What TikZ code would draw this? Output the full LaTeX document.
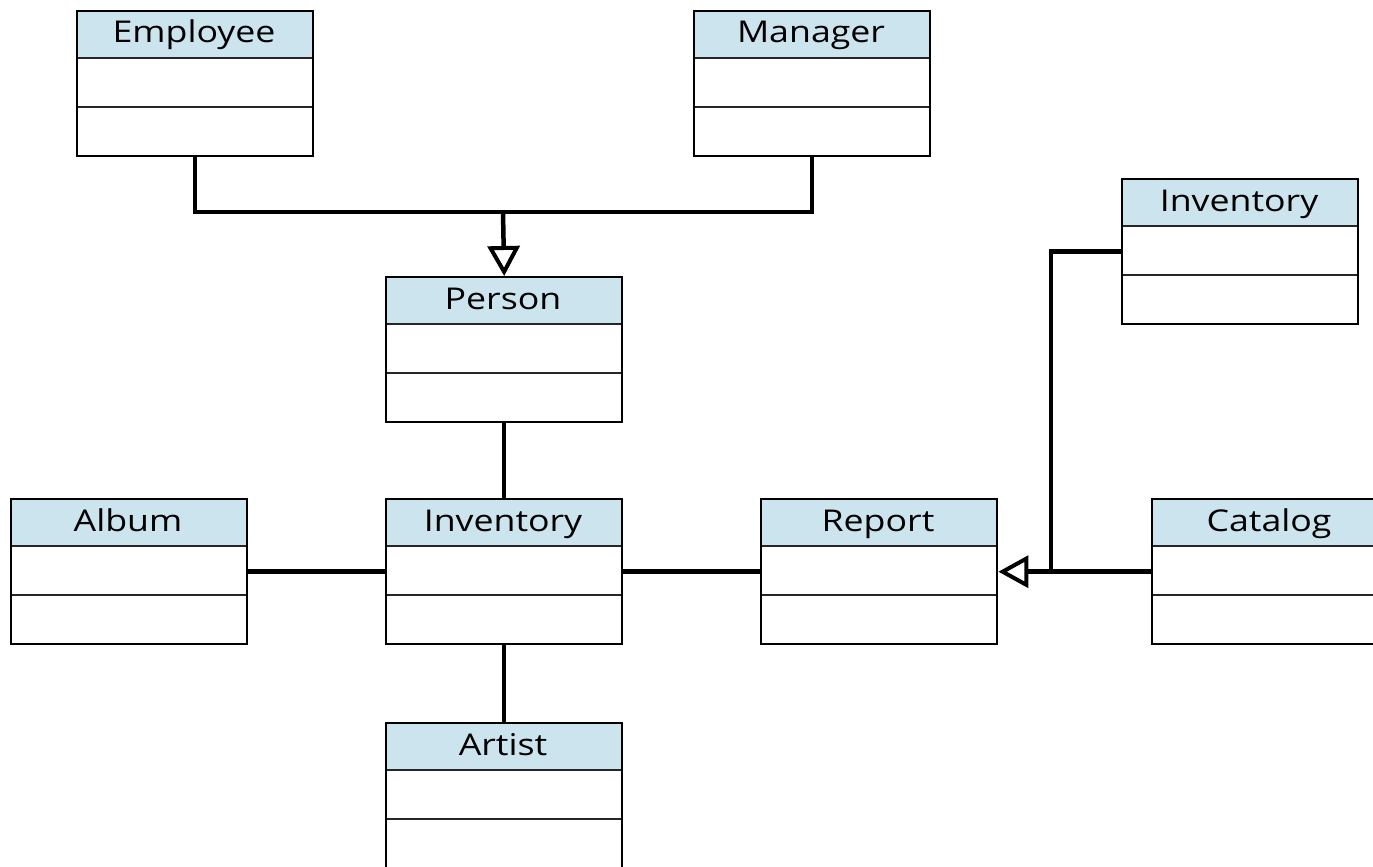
\documentclass[tikz,border=0pt]{standalone}
\usepackage{fontspec}
\newfontfamily\clsfont[FakeStretch=1.19]{Open Sans}
\usetikzlibrary{arrows.meta}
\definecolor{headblue}{RGB}{204,228,238}
\tikzset{
  x=1pt, y=1pt,
  classbox/.style={draw=black, line width=2.4pt, minimum width=236pt, minimum height=145pt, inner sep=0pt, anchor=north west},
  headfill/.style={fill=headblue},
  rowline/.style={draw=black!85, line width=2.2pt},
  classtitle/.style={font=\clsfont\fontsize{30}{34}\selectfont, inner sep=0pt, anchor=base},
  conn/.style={draw=black, line width=4.5pt},
  gen/.style={conn, -{Triangle[open, length=30pt, width=32pt, line width=4pt]}}
}
% class box: name, left, top, title
\newcommand\umlclass[4]{%
  \fill[headfill] (#2,-#3) rectangle ++(236,-48);
  \draw[rowline] (#2,-#3-48) -- ++(236,0) (#2,-#3-97) -- ++(236,0);
  \node[classbox] (#1) at (#2,-#3) {};
  \node[classtitle] at (#2+118,-#3-33) {#4};
}
\begin{document}
\begin{tikzpicture}
\useasboundingbox (0,0) rectangle (1373,-867);
\clip (0,0) rectangle (1373,-867);
\fill[white] (0,0) rectangle (1373,-867);

\umlclass{emp}{76}{10}{Employee}
\umlclass{mgr}{693}{10}{Manager}
\umlclass{per}{385}{276}{Person}
\umlclass{invr}{1121}{178}{Inventory}
\umlclass{alb}{10}{498}{Album}
\umlclass{inv}{385}{498}{Inventory}
\umlclass{rep}{760}{498}{Report}
\umlclass{cat}{1151}{498}{Catalog}
\umlclass{art}{385}{722}{Artist}

\coordinate (hub) at (503,-212);
\coordinate (bend) at (1051,-570.5);

\draw[conn, line join=miter] (emp.south) |- (hub) -| (mgr.south);
\draw[gen] (hub) -- (per.north);
\draw[conn] (per.south) -- (inv.north);
\draw[conn] (inv.south) -- (art.north);
\draw[conn] (alb.east) -- (inv.west);
\draw[conn] (inv.east) -- (rep.west);
\draw[conn, line join=miter] (invr.west) -| (bend);
\draw[gen] (cat.west) -- (rep.east);
\end{tikzpicture}
\end{document}
